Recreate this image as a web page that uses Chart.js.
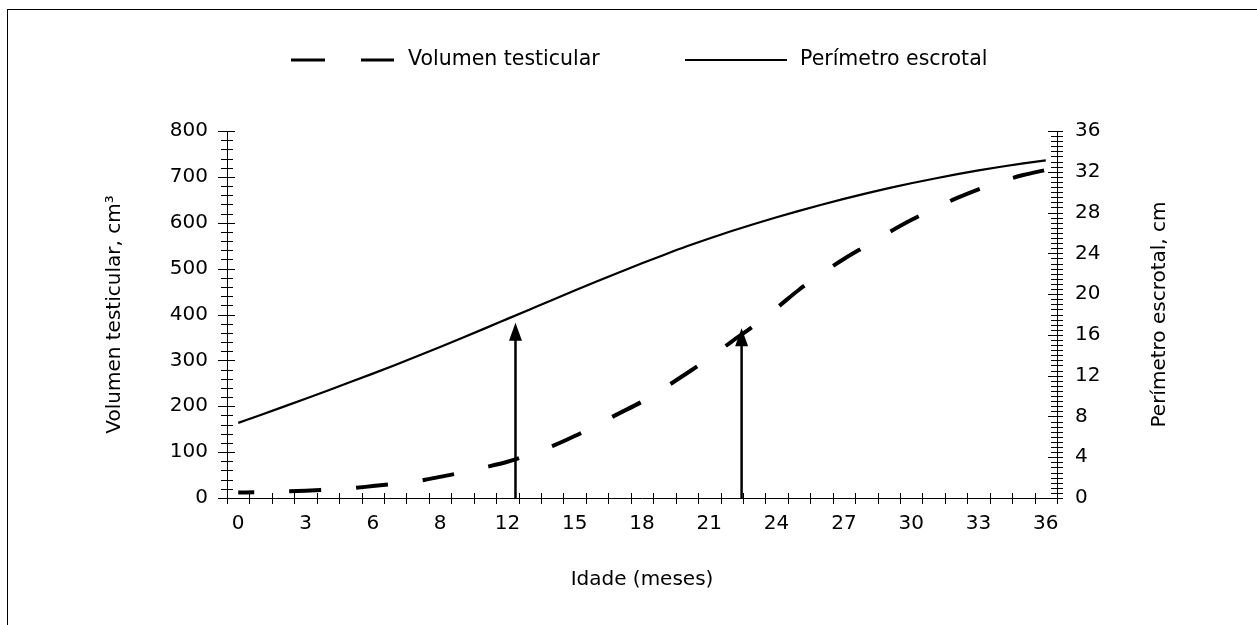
<!DOCTYPE html>
<html>
<head>
<meta charset="utf-8">
<script src="https://cdn.jsdelivr.net/npm/chart.js@4.4.1/dist/chart.umd.min.js"></script>
<style>
  html, body { margin: 0; padding: 0; background: #fff; }
  #wrap { position: relative; width: 1257px; height: 625px; overflow: hidden; }
  #frame { position: absolute; left: 7px; top: 9px; width: 1300px; height: 700px; border-top: 1px solid #000; border-left: 1px solid #000; pointer-events: none; }
  canvas { position: absolute; left: 0; top: 0; }
</style>
</head>
<body>
<div id="wrap">
  <canvas id="chart" width="1257" height="625"></canvas>
  <div id="frame"></div>
</div>
<script>
// meses (categorias)
const months = [0, 1, 2, 3, 4, 5, 6, 7, 8, 9, 10, 11, 12, 13, 14, 15, 16, 17, 18,
                19, 20, 21, 22, 23, 24, 25, 26, 27, 28, 29, 30, 31, 32, 33, 34, 35, 36];
// etiquetas do eixo x (como no original, "8" no lugar de 9)
const xTickLabels = ['0', '3', '6', '8', '12', '15', '18', '21', '24', '27', '30', '33', '36'];

// Volumen testicular, cm3 (eixo esquerdo)
const volumen = [12, 12.5, 14, 16, 18.5, 21, 26, 31, 37, 46, 56, 67, 79, 95, 113, 135, 160, 185, 210,
                 240, 272, 305, 341, 376, 414, 454, 489, 521, 550, 579, 606, 630, 653, 673, 690, 704, 715];
// Perímetro escrotal, cm (eixo direito)
const perimetro = [7.37, 8.15, 8.94, 9.74, 10.55, 11.37, 12.2, 13.05, 13.92, 14.81, 15.72, 16.64, 17.57, 18.5,
                   19.43, 20.35, 21.26, 22.15, 23.02, 23.87, 24.69, 25.46, 26.19, 26.88, 27.54, 28.17, 28.77,
                   29.34, 29.88, 30.39, 30.87, 31.32, 31.74, 32.13, 32.49, 32.82, 33.12];

// setas: mês e ponta (em cm3)
const arrowMonths = [12.36, 22.44];
const arrowTips = [382, 370];

const FONT = 'DejaVu Sans';
Chart.defaults.font.family = FONT;
Chart.defaults.font.size = 20;
Chart.defaults.color = '#000';

// marcas de escala cruzando os eixos
const tickMarks = {
    id: 'tickMarks',
    afterDraw(chart) {
        const { ctx, scales: { x, y, y1 } } = chart;
        ctx.save();
        ctx.strokeStyle = '#000';
        ctx.lineWidth = 1;
        ctx.beginPath();
        for (let v = x.min; v <= x.max + 1e-6; v += 1) {
            const px = Math.round(x.getPixelForValue(v)) + 0.5;
            ctx.moveTo(px, y.bottom - 5);
            ctx.lineTo(px, y.bottom + 6);
        }
        for (let v = 0; v <= 800; v += 20) {
            const py = Math.round(y.getPixelForValue(v)) + 0.5;
            const major = v % 100 === 0;
            ctx.moveTo(x.left - (major ? 9 : 6), py);
            ctx.lineTo(x.left + (major ? 8 : 6), py);
        }
        for (let v = 0; v <= 36; v += 0.5) {
            const py = Math.round(y1.getPixelForValue(v)) + 0.5;
            const major = v % 4 === 0;
            ctx.moveTo(x.right - (major ? 9 : 6), py);
            ctx.lineTo(x.right + 6, py);
        }
        ctx.stroke();
        ctx.restore();
    }
};

// setas verticais
const arrows = {
    id: 'arrows',
    afterDatasetsDraw(chart) {
        const { ctx, scales: { x, y } } = chart;
        ctx.save();
        ctx.strokeStyle = '#000';
        ctx.fillStyle = '#000';
        arrowMonths.forEach((m, i) => {
            const px = x.getPixelForValue(m);
            const tip = y.getPixelForValue(arrowTips[i]);
            ctx.lineWidth = 2.5;
            ctx.beginPath();
            ctx.moveTo(px, y.bottom);
            ctx.lineTo(px, tip + 12);
            ctx.stroke();
            ctx.beginPath();
            ctx.moveTo(px, tip);
            ctx.lineTo(px - 6.5, tip + 18);
            ctx.lineTo(px + 6.5, tip + 18);
            ctx.closePath();
            ctx.fill();
        });
        ctx.restore();
    }
};

// legenda e título do eixo direito
const extras = {
    id: 'extras',
    afterDraw(chart) {
        const { ctx, chartArea } = chart;
        ctx.save();
        ctx.strokeStyle = '#000';
        ctx.fillStyle = '#000';
        ctx.font = '20.5px "' + FONT + '"';
        ctx.textBaseline = 'middle';
        ctx.textAlign = 'left';
        const ly = 60;
        ctx.lineWidth = 3;
        ctx.setLineDash([34, 36]);
        ctx.beginPath();
        ctx.moveTo(291, ly);
        ctx.lineTo(394, ly);
        ctx.stroke();
        ctx.setLineDash([]);
        ctx.fillText('Volumen testicular', 408, ly);
        ctx.lineWidth = 2.2;
        ctx.beginPath();
        ctx.moveTo(685, ly);
        ctx.lineTo(787, ly);
        ctx.stroke();
        ctx.fillText('Perímetro escrotal', 800, ly);

        ctx.font = '20px "' + FONT + '"';
        ctx.translate(1160, (chartArea.top + chartArea.bottom) / 2);
        ctx.rotate(-Math.PI / 2);
        ctx.textAlign = 'center';
        ctx.fillText('Perímetro escrotal, cm', 0, 0);
        ctx.restore();
    }
};

const axisGrid = { display: true, drawOnChartArea: false, drawTicks: false };
const axisBorder = { display: true, color: '#000', width: 1 };

new Chart(document.getElementById('chart').getContext('2d'), {
    type: 'line',
    data: {
        datasets: [{
            label: 'Volumen testicular',
            data: months.map((m, i) => ({ x: m, y: volumen[i] })),
            yAxisID: 'y',
            borderColor: '#000',
            borderWidth: 4,
            borderDash: [32, 35],
            borderDashOffset: 16,
            borderCapStyle: 'butt',
            cubicInterpolationMode: 'monotone',
            pointRadius: 0,
            fill: false
        }, {
            label: 'Perímetro escrotal',
            data: months.map((m, i) => ({ x: m, y: perimetro[i] })),
            yAxisID: 'y1',
            borderColor: '#000',
            borderWidth: 2.2,
            cubicInterpolationMode: 'monotone',
            pointRadius: 0,
            fill: false
        }]
    },
    options: {
        responsive: false,
        animation: false,
        layout: { padding: { top: 131, left: 0, right: 0, bottom: 0 } },
        plugins: {
            legend: { display: false },
            tooltip: { enabled: false }
        },
        scales: {
            x: {
                type: 'linear',
                min: -0.5,
                max: 36.5,
                afterBuildTicks: (scale) => {
                    scale.ticks = months.filter((m, i) => i % 3 === 0).map(v => ({ value: v }));
                },
                afterFit: (scale) => { scale.height = 127; },
                ticks: {
                    autoSkip: false,
                    maxRotation: 0,
                    padding: 14,
                    callback: (v, i) => xTickLabels[i]
                },
                grid: axisGrid,
                border: axisBorder,
                title: { display: true, text: 'Idade (meses)', padding: { bottom: 33 } }
            },
            y: {
                position: 'left',
                min: 0,
                max: 800,
                afterFit: (scale) => { scale.width = 227; },
                ticks: { stepSize: 100, padding: 19 },
                grid: axisGrid,
                border: axisBorder,
                title: { display: true, text: 'Volumen testicular, cm³', padding: { top: 103 } }
            },
            y1: {
                position: 'right',
                min: 0,
                max: 36,
                afterFit: (scale) => { scale.width = 200; },
                ticks: { stepSize: 4, padding: 18 },
                grid: axisGrid,
                border: axisBorder
            }
        }
    },
    plugins: [tickMarks, arrows, extras]
});
</script>
</body>
</html>
